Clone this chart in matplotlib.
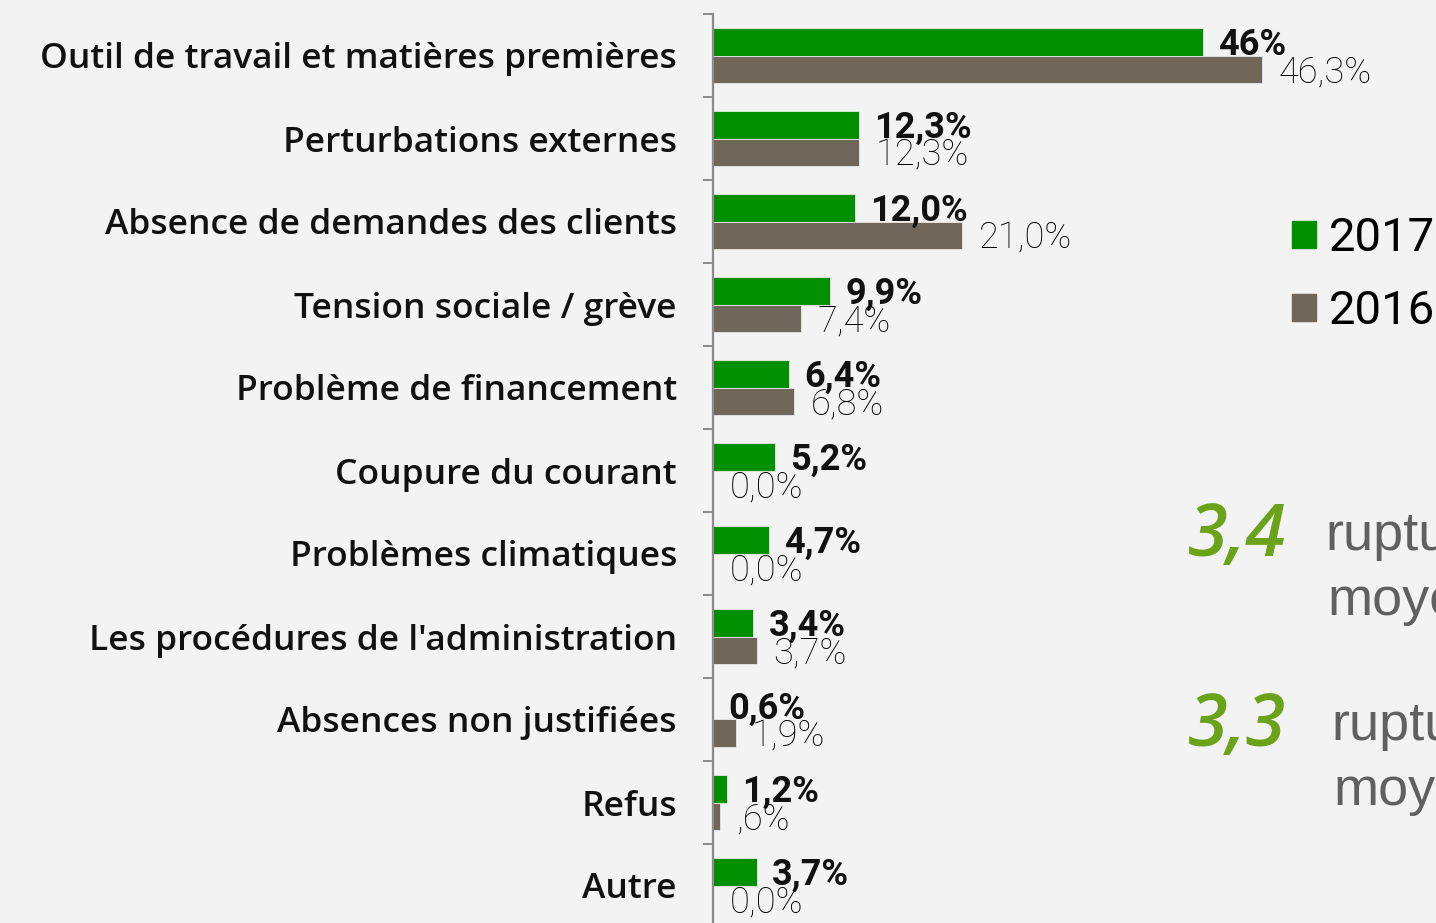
import matplotlib
matplotlib.use('Agg')
import matplotlib.pyplot as plt
from matplotlib.patches import Patch
import numpy as np

categories = ["Outil de travail et matières premières", "Perturbations externes",
              "Absence de demandes des clients", "Tension sociale / grève",
              "Problème de financement", "Coupure du courant", "Problèmes climatiques",
              "Les procédures de l'administration", "Absences non justifiées",
              "Refus", "Autre"]
values_2017 = [41.3, 12.3, 12.0, 9.9, 6.4, 5.2, 4.7, 3.4, 0.0, 1.2, 3.7]
values_2016 = [46.3, 12.3, 21.0, 7.4, 6.8, 0.0, 0.0, 3.7, 1.9, 0.6, 0.0]
labels_2017 = ["46%", "12,3%", "12,0%", "9,9%", "6,4%", "5,2%", "4,7%", "3,4%", "0,6%", "1,2%", "3,7%"]
labels_2016 = ["46,3%", "12,3%", "21,0%", "7,4%", "6,8%", "0,0%", "0,0%", "3,7%", "1,9%", ",6%", "0,0%"]
series = ["2017", "2016"]
avg_values = ["3,4", "3,3"]
avg_line1 = ["ruptures", "ruptures"]
avg_line2 = ["moyenne", "moyenne"]

GREEN = "#008f00"
BROWN = "#6f675a"
BG = "#f3f3f3"
FONT = ['Roboto', 'DejaVu Sans']
CATFONT = ['Open Sans', 'DejaVu Sans']

W, H = 1436, 923
fig = plt.figure(figsize=(W / 100, H / 100), dpi=100, facecolor=BG)
ax = fig.add_axes([713 / W, (H - 927) / H, (W - 713) / W, 913 / H])
ax.set_facecolor(BG)
ax.patch.set_alpha(0)

y = np.arange(len(categories))
bh = 0.33
off = 0.165
ax.barh(y - off, values_2017, height=bh, color=GREEN, edgecolor="#e8e8e8", linewidth=0.6, label=series[0])
ax.barh(y + off, values_2016, height=bh, color=BROWN, edgecolor="#e8e8e8", linewidth=0.6, label=series[1])

ax.set_xlim(0, 723 / 11.857)
ax.set_ylim(len(categories) - 0.5, -0.5)

for s in ['top', 'right', 'bottom']:
    ax.spines[s].set_visible(False)
ax.spines['left'].set_color('#8c8c8c')
ax.spines['left'].set_linewidth(1.6)
ax.set_xticks([])

ax.set_yticks(y)
ax.set_yticklabels(categories, fontsize=25.5, family=CATFONT, fontweight='semibold', color='#111111')
ax.tick_params(axis='y', which='major', length=0, pad=26)
ax.set_yticks(np.arange(-0.5, len(categories) + 0.5, 1), minor=True)
ax.tick_params(axis='y', which='minor', length=7, width=1.4, color='#8c8c8c')

for yi, v, lab in zip(y, values_2017, labels_2017):
    ax.annotate(lab, (v, yi - off), xytext=(11, -2.5), textcoords='offset points',
                ha='left', va='center', fontsize=26, fontweight='bold', family=FONT, color='#111111')
for yi, v, lab in zip(y, values_2016, labels_2016):
    ax.annotate(lab, (v, yi + off), xytext=(12, -2.5), textcoords='offset points',
                ha='left', va='center', fontsize=26, fontweight='light', family=FONT, color='#000000')

fig.legend(handles=[Patch(color=GREEN), Patch(color=BROWN)], labels=series,
           loc='upper left', bbox_to_anchor=(1292 / W, 1 - 216 / H), frameon=False,
           handlelength=0.5, handleheight=0.5, handletextpad=0.28,
           labelspacing=0.62, borderpad=0.0, borderaxespad=0.0,
           prop={'family': FONT, 'size': 34})

avg_y = [537, 727]
for k, (val, l1, l2) in enumerate(zip(avg_values, avg_line1, avg_line2)):
    yy = avg_y[k]
    fig.text(1188 / W, 1 - yy / H, val, fontsize=52, style='italic', fontweight='semibold',
             color='#6aa319', family='Open Sans', ha='left', va='center')
    fig.text((1325 + 6 * k) / W, 1 - (yy + 13) / H, l1, fontsize=39, color='#606060',
             family='Liberation Sans', ha='left', va='baseline')
    fig.text((1327 + 6 * k) / W, 1 - (yy + 13 + 65) / H, l2, fontsize=39, color='#606060',
             family='Liberation Sans', ha='left', va='baseline')

fig.savefig('out.png', dpi=100, facecolor=BG)
